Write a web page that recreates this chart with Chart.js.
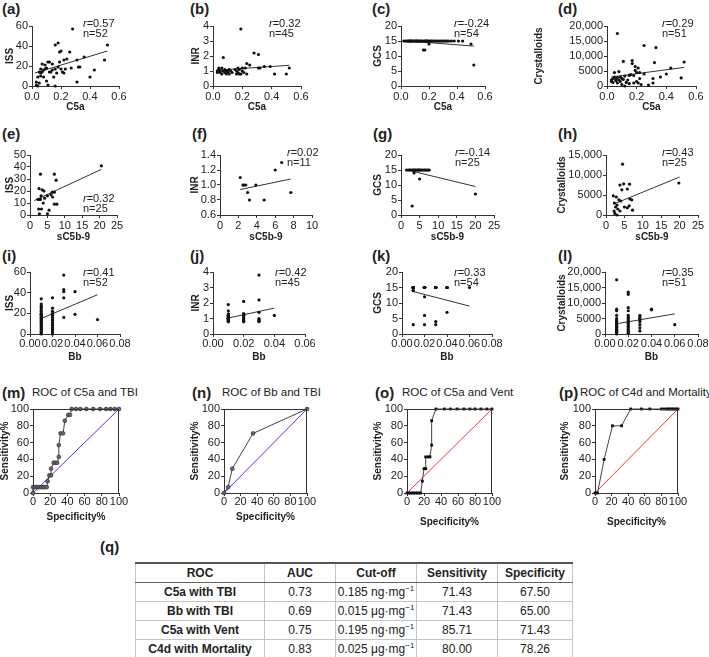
<!DOCTYPE html>
<html>
<head>
<meta charset="utf-8">
<script src="https://cdn.jsdelivr.net/npm/chart.js@4.4.1/dist/chart.umd.min.js"></script>
<style>
  body { margin: 0; background: #fff; }
  #fig { position: relative; width: 709px; height: 657px; overflow: hidden; font-family: 'Liberation Sans', Arial, sans-serif; color: #222; }
  #fig canvas { position: absolute; }
  .lbl { position: absolute; font-weight: bold; font-size: 15px; line-height: 16px; }
  .roc-title { position: absolute; font-size: 11.5px; line-height: 12px; white-space: nowrap; }
  .stat { position: absolute; font-size: 11px; line-height: 10px; white-space: nowrap; }
  #roc-table { position: absolute; left: 135px; top: 562px; border-collapse: collapse; font-size: 12px; border-top: 2px solid #555; border-bottom: 2px solid #555; }
  #roc-table th, #roc-table td { height: 18px; padding: 0; text-align: center; border: 1px solid #c4c4c4; white-space: nowrap; }
  #roc-table th { border-bottom: 1px solid #666; }
  #roc-table td:first-child { font-weight: bold; }
  #roc-table sup { font-size: 8px; line-height: 0; }
</style>
</head>
<body>
<div id="fig"></div>
<script>
// ---------- data ----------
// scatter rows: [x, y]
const c5aISS = [[0.03,1],[0.03,4],[0.04,0],[0.04,9],[0.05,14],[0.05,3],[0.06,10],[0.06,13],[0.07,22],[0.07,14],
  [0.08,16],[0.08,9],[0.09,17],[0.09,21],[0.10,18],[0.10,5],[0.11,24],[0.11,1],[0.12,24],[0.12,14],
  [0.13,14],[0.14,16],[0.15,9],[0.16,41],[0.16,0],[0.16,17],[0.17,13],[0.18,43],[0.18,19],[0.19,34],
  [0.19,24],[0.20,35],[0.20,17],[0.21,14],[0.22,26],[0.22,13],[0.23,17],[0.24,27],[0.26,34],[0.28,57],
  [0.27,18],[0.31,26],[0.31,4],[0.32,19],[0.33,19],[0.36,29],[0.40,9],[0.43,16],[0.50,26],[0.52,41],
  [0.14,22],[0.06,17]]
const c5aINR = [[0.03,1.0],[0.03,0.9],[0.04,1.1],[0.04,1.2],[0.05,0.9],[0.05,1.0],[0.06,0.8],[0.06,1.2],[0.07,1.9],[0.07,1.0],
  [0.08,0.9],[0.08,1.1],[0.09,0.8],[0.09,1.0],[0.10,0.9],[0.10,1.0],[0.11,1.1],[0.11,0.8],[0.12,1.0],[0.13,0.9],
  [0.16,1.0],[0.16,0.8],[0.17,1.2],[0.17,0.9],[0.18,0.8],[0.18,1.1],[0.19,3.8],[0.19,0.8],[0.20,1.0],[0.20,1.2],
  [0.21,0.9],[0.22,1.2],[0.23,1.5],[0.23,0.8],[0.25,1.4],[0.28,2.2],[0.31,2.1],[0.31,1.2],[0.32,1.2],[0.35,1.3],
  [0.39,1.3],[0.42,0.8],[0.50,0.8],[0.52,1.2],[0.15,1.1]]
const c5aGCS = [[0.02,15],[0.03,15],[0.04,15],[0.05,15],[0.05,15],[0.06,15],[0.06,15],[0.07,15],[0.07,15],[0.08,15],
  [0.08,15],[0.09,15],[0.10,15],[0.10,15],[0.11,15],[0.11,15],[0.12,15],[0.12,15],[0.13,15],[0.14,15],
  [0.14,15],[0.15,15],[0.16,15],[0.17,15],[0.17,15],[0.18,15],[0.18,15],[0.19,15],[0.19,15],[0.20,15],
  [0.21,15],[0.22,15],[0.22,15],[0.23,15],[0.24,15],[0.25,15],[0.26,15],[0.27,15],[0.28,15],[0.29,15],
  [0.30,15],[0.31,15],[0.32,15],[0.33,15],[0.34,15],[0.38,15],[0.41,15],[0.44,15],
  [0.16,12],[0.17,12],[0.20,14],[0.50,14],[0.52,7],[0.36,15]]
const c5aCrys = [[0.07,17500],[0.25,13500],[0.33,12800],[0.52,8000],[0.32,7800],[0.11,8200],[0.17,8500],[0.17,7500],[0.19,6500],[0.21,6000],
  [0.43,6000],[0.20,4500],[0.22,4500],[0.25,4000],[0.36,3000],[0.40,4000],[0.50,2700],[0.31,2500],[0.31,1000],[0.28,300],
  [0.03,1500],[0.03,2000],[0.04,2500],[0.04,1200],[0.05,4500],[0.05,3000],[0.06,1800],[0.06,2200],[0.07,2800],[0.07,1000],
  [0.08,4800],[0.08,2000],[0.09,3000],[0.09,1500],[0.10,2500],[0.10,500],[0.11,2200],[0.12,3300],[0.12,0],[0.13,1200],
  [0.14,2000],[0.15,3500],[0.16,3800],[0.18,1000],[0.18,3500],[0.19,5200],[0.20,1500],[0.21,1000],[0.23,500],[0.15,800],
  [0.22,2500]]
const sc5bISS = [[20.5,41],[3,34],[7,34],[7.5,29],[2.6,22],[3.5,21],[4,20],[2.3,13],[4.2,14],[3.2,16],
  [5,16],[6,17],[7,19],[6.5,15],[2.5,5],[3.3,5],[5.5,4],[7,9],[7.7,9],[2.7,1],
  [5,1],[3,13],[3.8,10],[6.4,19],[2.8,13]]
const sc5bINR = [[2.2,1.1],[2.5,1.0],[2.8,1.0],[3.0,0.9],[3.2,0.8],[3.9,1.0],[4.8,0.8],[6.0,1.2],[6.7,1.3],[7.7,0.9],[2.6,1.0]]
const sc5bGCS = [[1.5,15],[2,15],[2.3,15],[2.6,15],[3,15],[3.2,15],[3.5,15],[3.8,15],[4,15],[4.3,15],
  [4.6,15],[5,15],[5.3,15],[5.6,15],[6,15],[6.3,15],[6.6,15],[7,15],[7.3,15],[7.6,15],
  [4.8,15],[3.5,14],[5,12],[3,3],[20,7]]
const sc5bCrys = [[4.5,12700],[19.8,8000],[4.8,7800],[3.8,7500],[6.4,7700],[4.3,6300],[5.8,6500],[2.0,4800],[2.8,4500],[3.5,3800],
  [4.0,3500],[6.5,4000],[7.0,3800],[2.3,3000],[3.0,2500],[2.6,2000],[5.0,2000],[5.8,1800],[6.3,2300],[7.2,1200],
  [2.2,1000],[3.2,1500],[2.4,400],[3.0,0],[3.8,1000]]
const bbISS = [[0.01,0],[0.01,1],[0.01,2],[0.01,4],[0.01,5],[0.01,6],[0.01,8],[0.01,9],[0.01,10],[0.01,12],
  [0.01,13],[0.01,14],[0.01,16],[0.01,17],[0.01,19],[0.01,20],[0.01,22],[0.01,24],[0.01,26],[0.01,29],
  [0.01,34],[0.01,3],[0.01,7],[0.01,11],[0.01,15],[0.01,18],[0.01,27],
  [0.02,0],[0.02,2],[0.02,4],[0.02,6],[0.02,8],[0.02,9],[0.02,11],[0.02,13],[0.02,16],[0.02,18],
  [0.02,19],[0.02,22],[0.02,25],[0.02,35],[0.02,5],[0.02,14],[0.02,20],
  [0.03,57],[0.03,43],[0.03,41],[0.03,35],[0.03,16],[0.04,41],[0.04,19],[0.06,14]]
const bbINR = [[0.01,0.8],[0.01,0.8],[0.01,0.9],[0.01,0.9],[0.01,0.9],[0.01,1.0],[0.01,1.0],[0.01,1.0],[0.01,1.0],[0.01,1.0],
  [0.01,1.1],[0.01,1.1],[0.01,1.1],[0.01,1.2],[0.01,1.2],[0.01,1.3],[0.01,1.5],[0.01,1.9],[0.01,1.0],[0.01,0.9],
  [0.01,1.0],[0.01,1.1],[0.01,0.8],[0.01,1.0],[0.01,1.2],
  [0.02,0.8],[0.02,0.8],[0.02,0.9],[0.02,1.2],[0.02,1.3],[0.02,1.3],[0.02,2.1],[0.02,1.0],[0.02,1.1],[0.02,0.9],[0.02,1.2],
  [0.03,0.8],[0.03,0.9],[0.03,0.9],[0.03,1.4],[0.03,2.2],[0.03,3.8],[0.03,1.0],[0.03,0.8],
  [0.04,1.2]]
const bbGCS = [[0.01,15],[0.01,15],[0.01,15],[0.01,15],[0.01,15],[0.01,15],[0.01,15],[0.01,15],[0.01,15],[0.01,15],
  [0.01,15],[0.01,15],[0.01,15],[0.01,15],[0.01,15],[0.01,15],[0.01,15],[0.01,15],[0.01,14],[0.01,14],[0.01,3],
  [0.02,15],[0.02,15],[0.02,15],[0.02,15],[0.02,15],[0.02,15],[0.02,15],[0.02,15],[0.02,15],[0.02,15],
  [0.02,15],[0.02,15],[0.02,15],[0.02,12],[0.02,6],[0.02,3],
  [0.03,15],[0.03,15],[0.03,15],[0.03,15],[0.03,15],[0.03,15],[0.03,15],[0.03,15],[0.03,4],[0.03,3],
  [0.04,15],[0.04,15],[0.04,15],[0.04,15],[0.04,15],[0.04,7],[0.06,15]]
const bbCrys = [[0.01,17500],[0.01,8000],[0.01,7500],[0.01,5000],[0.01,4500],[0.01,4000],[0.01,3500],[0.01,3000],[0.01,2500],[0.01,2000],
  [0.01,1500],[0.01,1000],[0.01,500],[0.01,0],[0.01,4200],[0.01,3200],[0.01,2200],[0.01,1200],[0.01,800],
  [0.01,6000],[0.01,2700],[0.01,1700],[0.01,300],
  [0.02,13500],[0.02,12800],[0.02,8500],[0.02,6000],[0.02,5500],[0.02,5000],[0.02,4500],[0.02,4000],[0.02,3500],[0.02,2500],
  [0.02,1500],[0.02,500],[0.02,3000],[0.02,2000],[0.02,7500],[0.02,1000],[0.02,200],
  [0.03,6000],[0.03,5500],[0.03,4500],[0.03,4000],[0.03,3000],[0.03,1000],[0.03,2000],[0.03,5000],
  [0.04,8000],[0.04,7800],[0.06,3000]]

// regression line end points
const fitA = [[0.02,13],[0.52,35]]
const fitB = [[0.02,1.05],[0.52,1.38]]
const fitC = [[0.02,15.1],[0.52,13.3]]
const fitD = [[0.03,3000],[0.52,6200]]
const fitE = [[1.2,12],[20.5,38]]
const fitF = [[2.2,0.94],[7.7,1.08]]
const fitG = [[3,14.6],[20,9.5]]
const fitH = [[2,2700],[20,9500]]
const fitI = [[0.01,15],[0.06,38]]
const fitJ = [[0.01,1.03],[0.04,1.67]]
const fitK = [[0.01,13.7],[0.06,9]]
const fitL = [[0.01,3300],[0.06,6500]]

// correlation labels, panels a..l
const rVals = ['0.57', '0.32', '-0.24', '0.29', '0.32', '0.02', '-0.14', '0.43', '0.41', '0.42', '0.33', '0.35']
const nVals = [52, 45, 54, 51, 25, 11, 25, 25, 52, 45, 54, 51]

// ROC curves: [specificity%, sensitivity%]
const rocC5aTBI = [[0,0],[0,7],[2,7],[4,7],[6,7],[8,7],[10,7],[12,7],[14,7],[16,7],[17,14],[19,21],[21,21],[21,29],
  [24,36],[26,36],[28,36],[30,43],[30,57],[32,71],[35,71],[37,86],[41,93],[43,93],[45,100],[50,100],[55,100],
  [62,100],[70,100],[78,100],[85,100],[90,100],[95,100],[100,100]]
const rocBbTBI = [[0,0],[5,7],[10,29],[35,71],[100,100]]
const rocC5aVent = [[0,0],[2,0],[4,0],[6,0],[8,0],[10,0],[12,0],[14,0],[16,0],[18,14],[20,29],[22,29],[22,43],
  [25,43],[27,43],[29,57],[29,86],[34,100],[44,100],[51,100],[59,100],[67,100],[74,100],[80,100],[87,100],[94,100],[100,100]]
const rocC4dMort = [[0,0],[3,0],[11,40],[21,80],[32,80],[43,100],[56,100],[66,100],[80,100],[83,100],[86,100],
  [88,100],[90,100],[92,100],[94,100],[96,100],[98,100],[100,100]]
const rocTitles = ['ROC of C5a and TBI', 'ROC of Bb and TBI', 'ROC of C5a and Vent', 'ROC of C4d and Mortality']

// tick values and labels
const c5aTicks = [0, 0.2, 0.4, 0.6], c5aLabels = ['0.0', '0.2', '0.4', '0.6']
const sc5bTicks = [0, 5, 10, 15, 20, 25], sc5bLabels = ['0', '5', '10', '15', '20', '25']
const sc5bInrTicks = [0, 2, 4, 6, 8, 10], sc5bInrLabels = ['0', '2', '4', '6', '8', '10']
const bbTicks = [0, 0.02, 0.04, 0.06, 0.08], bbLabels = ['0.00', '0.02', '0.04', '0.06', '0.08']
const bbInrTicks = [0, 0.02, 0.04, 0.06], bbInrLabels = ['0.00', '0.02', '0.04', '0.06']
const iss60Ticks = [0, 20, 40, 60], iss60Labels = ['0', '20', '40', '60']
const iss50Ticks = [0, 10, 20, 30, 40, 50], iss50Labels = ['0', '10', '20', '30', '40', '50']
const inrTicks = [0, 1, 2, 3, 4], inrLabels = ['0', '1', '2', '3', '4']
const inrFineTicks = [0.6, 0.8, 1.0, 1.2, 1.4], inrFineLabels = ['0.6', '0.8', '1.0', '1.2', '1.4']
const gcsTicks = [0, 5, 10, 15, 20], gcsLabels = ['0', '5', '10', '15', '20']
const crys20Ticks = [0, 5000, 10000, 15000, 20000], crys20Labels = ['0', '5000', '10,000', '15,000', '20,000']
const crys15Ticks = [0, 5000, 10000, 15000], crys15Labels = ['0', '5000', '10,000', '15,000']
const rocTicks = [0, 20, 40, 60, 80, 100], rocLabels = ['0', '20', '40', '60', '80', '100']

// table (q)
const tblHead = ['ROC', 'AUC', 'Cut-off', 'Sensitivity', 'Specificity']
const tblRoc = ['C5a with TBI', 'Bb with TBI', 'C5a with Vent', 'C4d with Mortality']
const tblAuc = ['0.73', '0.69', '0.75', '0.83']
const tblCut = ['0.185', '0.015', '0.195', '0.025']
const tblUnit = ['ng', 'μg', 'ng', 'μg']
const tblSens = ['71.43', '71.43', '85.71', '80.00']
const tblSpec = ['67.50', '65.00', '71.43', '78.26']

// ---------- layout ----------
const fig = document.getElementById('fig')
Chart.defaults.font.family = "'Liberation Sans', Arial, sans-serif"
Chart.defaults.color = '#222'

const PAD_TOP = 8, PAD_RIGHT = 14
const INK = '#333'

function axis(ticks, labels, title, size, horizontal, tickPad) {
  return {
    type: 'linear',
    min: ticks[0],
    max: ticks[ticks.length - 1],
    afterFit: s => { if (horizontal) s.height = size; else s.width = size },
    afterBuildTicks: s => { s.ticks = ticks.map(v => ({ value: v })) },
    ticks: {
      callback: (v, i) => labels[i],
      autoSkip: false, maxRotation: 0, padding: tickPad,
      color: '#222', font: { size: 11, lineHeight: 1 }
    },
    grid: { drawOnChartArea: false, drawTicks: true, tickLength: 3, color: INK, lineWidth: 1 },
    border: { display: true, color: INK, width: 1 },
    title: { display: true, text: title, color: '#222', padding: 0, font: { size: 10, weight: 'bold', lineHeight: 1 } }
  }
}

// top and right edges of the ROC frames
const boxPlugin = {
  id: 'box',
  afterDraw(chart) {
    const { ctx, chartArea: a } = chart
    ctx.save()
    ctx.strokeStyle = INK
    ctx.lineWidth = 1
    ctx.beginPath()
    ctx.moveTo(a.left, a.top + 0.5)
    ctx.lineTo(a.right - 0.5, a.top + 0.5)
    ctx.lineTo(a.right - 0.5, a.bottom)
    ctx.stroke()
    ctx.restore()
  }
}

const toXY = arr => arr.map(([x, y]) => ({ x, y }))

function addText(cls, html, left, top) {
  const d = document.createElement('div')
  d.className = cls
  d.innerHTML = html
  d.style.left = left + 'px'
  d.style.top = top + 'px'
  fig.appendChild(d)
}

function makePanel(p) {
  const cv = document.createElement('canvas')
  const w = Math.round(p.yW + (p.right - p.ax) + PAD_RIGHT)
  const h = Math.round(PAD_TOP + (p.bottom - p.top) + p.xH)
  cv.width = w
  cv.height = h
  cv.style.left = Math.round(p.ax - p.yW) + 'px'
  cv.style.top = (p.top - PAD_TOP) + 'px'
  fig.appendChild(cv)

  let datasets
  if (p.roc) {
    datasets = [
      {
        data: toXY(p.pts), showLine: true, borderColor: '#444', borderWidth: 1,
        pointStyle: p.square ? 'rect' : 'circle', pointRadius: p.square ? 2 : 1.9,
        pointBackgroundColor: p.square ? '#111' : '#666', pointBorderColor: p.square ? '#111' : '#333',
        pointBorderWidth: p.square ? 0 : 0.7, clip: false
      },
      { data: [{ x: 0, y: 0 }, { x: 100, y: 100 }], showLine: true, borderColor: p.diag, borderWidth: 1, pointRadius: 0, clip: false }
    ]
  } else {
    datasets = [
      { data: toXY(p.pts), pointRadius: 1.6, pointBackgroundColor: '#111', pointBorderWidth: 0, clip: false },
      { data: toXY(p.fit), showLine: true, borderColor: '#333', borderWidth: 1, pointRadius: 0, clip: false }
    ]
  }

  new Chart(cv, {
    type: 'scatter',
    data: { datasets },
    options: {
      responsive: false,
      animation: false,
      devicePixelRatio: 1,
      events: [],
      layout: { padding: { top: PAD_TOP, right: PAD_RIGHT, left: 0, bottom: 0 } },
      plugins: { legend: { display: false }, tooltip: { enabled: false } },
      scales: {
        x: axis(p.x[0], p.x[1], p.x[2], p.xH, true, p.tp),
        y: axis(p.y[0], p.y[1], p.y[2], p.yW, false, 1)
      }
    },
    plugins: p.roc ? [boxPlugin] : []
  })
}

const c5aX = [c5aTicks, c5aLabels, 'C5a']
const sc5bX = [sc5bTicks, sc5bLabels, 'sC5b-9']
const bbX = [bbTicks, bbLabels, 'Bb']
const rocX = [rocTicks, rocLabels, 'Specificity%']
const rocY = [rocTicks, rocLabels, 'Sensitivity%']

const R1 = { top: 26, bottom: 86, xH: 26, tp: 2 }
const R2 = { top: 155, bottom: 215, xH: 27, tp: 2 }
const R3 = { top: 272, bottom: 334, xH: 28, tp: 1 }
const R4 = { top: 409, bottom: 493, xH: 29, tp: 0 }

const panels = [
  { ...R1, pts: c5aISS, fit: fitA, x: c5aX, y: [iss60Ticks, iss60Labels, 'ISS'], ax: 32, right: 119, yW: 27 },
  { ...R1, pts: c5aINR, fit: fitB, x: c5aX, y: [inrTicks, inrLabels, 'INR'], ax: 213, right: 301, yW: 22 },
  { ...R1, pts: c5aGCS, fit: fitC, x: c5aX, y: [gcsTicks, gcsLabels, 'GCS'], ax: 401, right: 485, yW: 28 },
  { ...R1, pts: c5aCrys, fit: fitD, x: c5aX, y: [crys20Ticks, crys20Labels, 'Crystalloids'], ax: 607, right: 696, yW: 73 },
  { ...R2, pts: sc5bISS, fit: fitE, x: sc5bX, y: [iss50Ticks, iss50Labels, 'ISS'], ax: 30, right: 117, yW: 25 },
  { ...R2, pts: sc5bINR, fit: fitF, x: [sc5bInrTicks, sc5bInrLabels, 'sC5b-9'], y: [inrFineTicks, inrFineLabels, 'INR'], ax: 220, right: 312, yW: 30 },
  { ...R2, pts: sc5bGCS, fit: fitG, x: sc5bX, y: [gcsTicks, gcsLabels, 'GCS'], ax: 401, right: 494, yW: 28 },
  { ...R2, pts: sc5bCrys, fit: fitH, x: sc5bX, y: [crys15Ticks, crys15Labels, 'Crystalloids'], ax: 606, right: 698, yW: 49 },
  { ...R3, pts: bbISS, fit: fitI, x: bbX, y: [iss60Ticks, iss60Labels, 'ISS'], ax: 30, right: 120, yW: 25 },
  { ...R3, pts: bbINR, fit: fitJ, x: [bbInrTicks, bbInrLabels, 'Bb'], y: [inrTicks, inrLabels, 'INR'], ax: 213, right: 305, yW: 22 },
  { ...R3, pts: bbGCS, fit: fitK, x: bbX, y: [gcsTicks, gcsLabels, 'GCS'], ax: 402, right: 492, yW: 29 },
  { ...R3, pts: bbCrys, fit: fitL, x: bbX, y: [crys20Ticks, crys20Labels, 'Crystalloids'], ax: 605, right: 698, yW: 48 },
  { ...R4, roc: true, diag: '#3a3aff', pts: rocC5aTBI, x: rocX, y: rocY, ax: 33, right: 119, yW: 33 },
  { ...R4, roc: true, diag: '#3a3aff', pts: rocBbTBI, x: rocX, y: rocY, ax: 224, right: 307, yW: 34 },
  { ...R4, roc: true, square: true, diag: '#ff3030', pts: rocC5aVent, x: rocX, y: rocY, ax: 407, right: 492, yW: 34, xH: 34 },
  { ...R4, roc: true, square: true, diag: '#ff3030', pts: rocC4dMort, x: rocX, y: rocY, ax: 595, right: 678, yW: 35, xH: 34 }
]
panels.forEach(makePanel)

// panel letters
const letters = 'abcdefghijklmnop'.split('')
const letterPos = [[2, 1], [190, 1], [372, 1], [558, 1],
  [2, 126], [192, 126], [373, 126], [558, 126],
  [2, 248], [190, 248], [372, 248], [558, 248],
  [2, 385], [192, 385], [375, 385], [559, 385]]
letters.forEach((l, i) => addText('lbl', '(' + l + ')', letterPos[i][0], letterPos[i][1]))
addText('lbl', '(q)', 100, 539)

// r / n annotations
const statPos = [[83, 18], [269, 18], [454, 18], [662, 18],
  [83, 193], [287, 147], [455, 147], [662, 147],
  [83, 267], [275, 267], [454, 267], [662, 267]]
rVals.forEach((r, i) => addText('stat', '<i>r</i>=' + r + '<br>n=' + nVals[i], statPos[i][0], statPos[i][1]))

// ROC titles
const rocTitlePos = [[32, 386], [222, 386], [402, 386], [580, 386]]
rocTitles.forEach((t, i) => addText('roc-title', t, rocTitlePos[i][0], rocTitlePos[i][1]))

// table (q)
const colW = [128, 70, 80, 80, 74]
const tbl = document.createElement('table')
tbl.id = 'roc-table'
let html = '<tr>' + tblHead.map((h, i) => `<th style="width:${colW[i]}px">${h}</th>`).join('') + '</tr>'
tblRoc.forEach((name, i) => {
  html += `<tr><td>${name}</td><td>${tblAuc[i]}</td>` +
    `<td>${tblCut[i]} ${tblUnit[i]}·mg<sup>−1</sup></td>` +
    `<td>${tblSens[i]}</td><td>${tblSpec[i]}</td></tr>`
})
tbl.innerHTML = html
fig.appendChild(tbl)
</script>
</body>
</html>
